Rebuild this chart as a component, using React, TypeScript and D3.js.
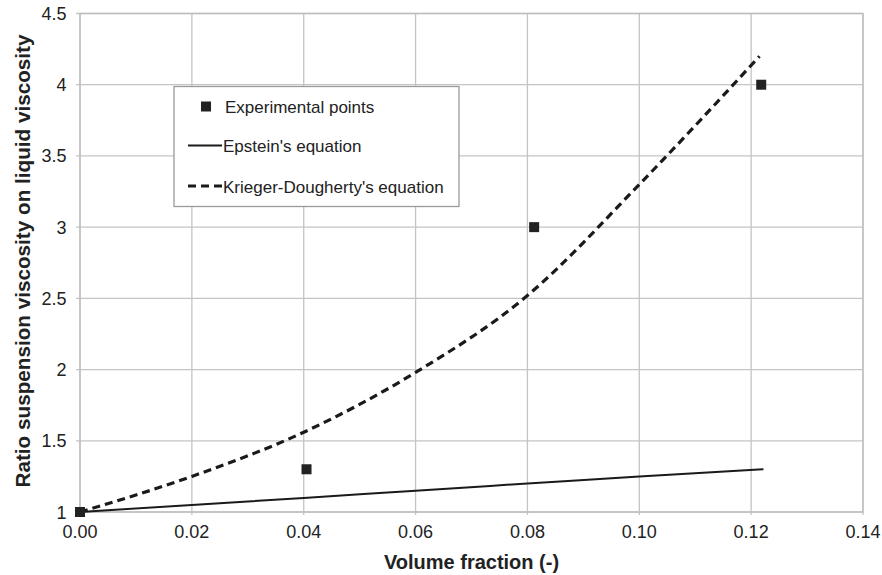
import React from "react";
import * as d3 from "d3";

const expX = [0.0, 0.0405, 0.0812, 0.1218];
const expY = [1.0, 1.3, 3.0, 4.0];

const epsteinX = [0.0, 0.02, 0.04, 0.06, 0.08, 0.1, 0.1222];
const epsteinY = [1.0, 1.05, 1.098, 1.15, 1.2, 1.25, 1.3];

const kdX = [0.0, 0.02, 0.04, 0.06, 0.08, 0.1, 0.1215];
const kdY = [1.0, 1.25, 1.56, 1.98, 2.52, 3.3, 4.2];

const xTicks = [0, 0.02, 0.04, 0.06, 0.08, 0.1, 0.12, 0.14];
const yTicks = [1, 1.5, 2, 2.5, 3, 3.5, 4, 4.5];

const legendLabels = ["Experimental points", "Epstein's equation", "Krieger-Dougherty's equation"];

const W = 882;
const H = 575;
const left = 80;
const right = 863;
const top = 13.5;
const bottom = 512;

export default function App() {
  const x = d3.scaleLinear().domain([0, 0.14]).range([left, right]);
  const y = d3.scaleLinear().domain([1, 4.5]).range([bottom, top]);
  const font = "'Liberation Sans', Arial, sans-serif";

  const line = d3
    .line<[number, number]>()
    .x((d) => x(d[0]))
    .y((d) => y(d[1]))
    .curve(d3.curveMonotoneX);

  const epstein = epsteinX.map((v, i) => [v, epsteinY[i]] as [number, number]);
  const kd = kdX.map((v, i) => [v, kdY[i]] as [number, number]);

  return (
    <svg
      width={W}
      height={H}
      style={{ position: "absolute", left: 0, top: 0, background: "#fff" }}
      fontFamily={font}
    >
      {/* grid */}
      {xTicks.map((t) => (
        <line key={"gx" + t} x1={x(t)} x2={x(t)} y1={top} y2={bottom + 3} stroke="#c4c4c4" strokeWidth={1.3} />
      ))}
      {yTicks.map((t) => (
        <line key={"gy" + t} x1={left - 4} x2={right} y1={y(t)} y2={y(t)} stroke="#c4c4c4" strokeWidth={1.3} />
      ))}
      <rect x={left} y={top} width={right - left} height={bottom - top} fill="none" stroke="#bdbdbd" strokeWidth={1.3} />

      {/* tick labels */}
      {xTicks.map((t) => (
        <text key={"tx" + t} x={x(t)} y={538} textAnchor="middle" fontSize={18} fill="#222">
          {t.toFixed(2)}
        </text>
      ))}
      {yTicks.map((t) => (
        <text key={"ty" + t} x={66.5} y={y(t) + 6.5} textAnchor="end" fontSize={18} fill="#222">
          {String(t)}
        </text>
      ))}

      {/* axis titles */}
      <text x={(left + right) / 2} y={569} textAnchor="middle" fontSize={20} fontWeight="bold" fill="#222">
        Volume fraction (-)
      </text>
      <text
        transform={`translate(29.5, ${261}) rotate(-90)`}
        textAnchor="middle"
        fontSize={20.7}
        fontWeight="bold"
        fill="#222"
      >
        Ratio suspension viscosity on liquid viscosity
      </text>

      {/* curves */}
      <path d={line(epstein) || ""} fill="none" stroke="#1a1a1a" strokeWidth={2} />
      <path d={line(kd) || ""} fill="none" stroke="#1a1a1a" strokeWidth={3.2} strokeDasharray="8 5" />

      {/* experimental points */}
      {expX.map((v, i) => (
        <rect key={"p" + i} x={x(v) - 5} y={y(expY[i]) - 5} width={10} height={10} fill="#222" />
      ))}

      {/* legend */}
      <rect x={174} y={86.5} width={285} height={120} fill="#fff" stroke="#9a9a9a" strokeWidth={1.3} />
      <rect x={201} y={101.5} width={10} height={10} fill="#222" />
      <line x1={188} x2={222} y1={145.5} y2={145.5} stroke="#1a1a1a" strokeWidth={2} />
      <line x1={188} x2={222} y1={186} y2={186} stroke="#1a1a1a" strokeWidth={3.2} strokeDasharray="8 5" />
      {legendLabels.map((s, i) => (
        <text key={s} x={i === 0 ? 225 : 223} y={[112.5, 152, 192.5][i]} fontSize={17} fill="#222">
          {s}
        </text>
      ))}
    </svg>
  );
}
